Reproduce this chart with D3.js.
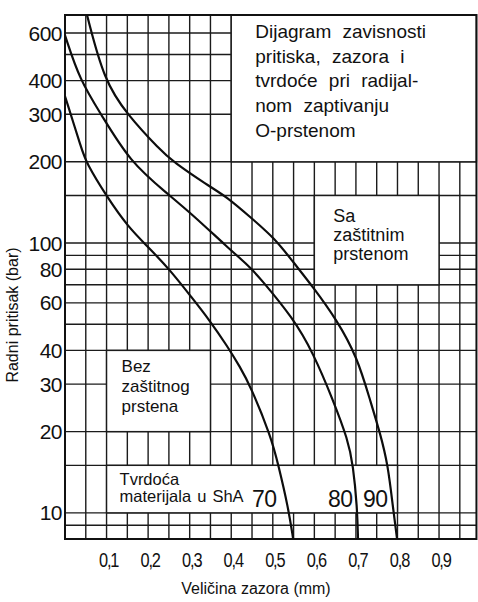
<!DOCTYPE html>
<html>
<head>
<meta charset="utf-8">
<script src="https://cdn.jsdelivr.net/npm/d3@7"></script>
<style>
  body { margin: 0; background: #fff; }
  svg { display: block; font-family: "Liberation Sans", Arial, sans-serif; }
</style>
</head>
<body>
<div id="chart"></div>
<script>
// 1: DATA
// gap (mm) / pressure (bar) pairs for each hardness curve
const hardness = ["70", "80", "90"];
const curve70 = [[0, 350], [0.041, 221], [0.05, 200], [0.101, 148], [0.152, 114.6], [0.2, 96.7],
    [0.253, 79.4], [0.306, 62.5], [0.344, 52.7], [0.392, 41.2], [0.421, 34.7], [0.445, 29.8],
    [0.496, 19.1], [0.513, 15.1], [0.537, 10.5], [0.549, 8]];
const curve80 = [[0, 589], [0.036, 400], [0.087, 300], [0.156, 200], [0.245, 153], [0.308, 127],
    [0.39, 96.7], [0.445, 81.5], [0.469, 74.2], [0.549, 52.7], [0.597, 39.2], [0.645, 26.2],
    [0.681, 18.6], [0.693, 15.1], [0.703, 10.5], [0.705, 8]];
const curve90 = [[0.053, 700], [0.094, 400], [0.149, 300], [0.229, 221], [0.26, 200], [0.342, 164],
    [0.39, 148], [0.445, 125], [0.505, 104], [0.549, 85], [0.597, 68.7], [0.654, 51.9],
    [0.703, 37.8], [0.734, 26.2], [0.758, 19.8], [0.777, 15.1], [0.789, 10.5], [0.799, 8]];
const curves = [curve70, curve80, curve90];

// ticks and grid
const xTicks = [0.1, 0.2, 0.3, 0.4, 0.5, 0.6, 0.7, 0.8, 0.9];
const xTickLabels = ["0,1", "0,2", "0,3", "0,4", "0,5", "0,6", "0,7", "0,8", "0,9"];
const yTicks = [10, 20, 30, 40, 60, 80, 100, 200, 300, 400, 600];
const xGrid = [0.05, 0.1, 0.15, 0.2, 0.25, 0.3, 0.35, 0.4, 0.45, 0.5, 0.55, 0.6, 0.65,
    0.7, 0.75, 0.8, 0.85, 0.9, 0.95];
const yGrid = [9, 10, 15, 20, 30, 40, 50, 60, 70, 80, 90, 100, 150, 200, 300, 400, 500, 600];

// texts
const titleLines = ["Dijagram zavisnosti", "pritiska, zazora i", "tvrdoće pri radijal-",
    "nom zaptivanju", "O-prstenom"];
const withRingLines = ["Sa", "zaštitnim", "prstenom"];
const noRingLines = ["Bez", "zaštitnog", "prstena"];
const hardnessLines = ["Tvrdoća", "materijala u ShA"];

// 2: SCALES
const W = 478, H = 602;
const xMax = 0.99;
const x = d3.scaleLinear().domain([0, 1]).range([65, 480.6]);
const y = d3.scaleLog().domain([8, 700]).range([539, 15]);
const pLeft = x(0), pRight = x(xMax), pTop = y(700), pBottom = y(8);

const svg = d3.select("#chart").append("svg")
    .attr("width", W)
    .attr("height", H);

// 3: GRID
const grid = svg.append("g")
    .attr("stroke", "#1b1b1b")
    .attr("stroke-width", 1.4);

grid.selectAll(".vx").data(xGrid).join("line")
    .attr("x1", d => x(d)).attr("x2", d => x(d))
    .attr("y1", pTop).attr("y2", pBottom);

grid.selectAll(".hy").data(yGrid).join("line")
    .attr("x1", pLeft).attr("x2", pRight)
    .attr("y1", d => y(d)).attr("y2", d => y(d));

// white boxes cut out of the grid, in data units [x0, x1, pLow, pHigh]
const boxes = [
    [0.4, xMax, 200, 700],
    [0.6, 0.9, 70, 150],
    [0.1, 0.35, 20, 40],
    [0.1, 0.8, 10, 15]
];
svg.append("g").selectAll("rect").data(boxes).join("rect")
    .attr("x", d => x(d[0]))
    .attr("y", d => y(d[3]))
    .attr("width", d => x(d[1]) - x(d[0]))
    .attr("height", d => y(d[2]) - y(d[3]))
    .attr("fill", "#fff")
    .attr("stroke", "#1b1b1b")
    .attr("stroke-width", 1.4);

// plot border
svg.append("rect")
    .attr("x", pLeft).attr("y", pTop)
    .attr("width", pRight - pLeft).attr("height", pBottom - pTop)
    .attr("fill", "none")
    .attr("stroke", "#111")
    .attr("stroke-width", 2);

// 4: CURVES
svg.append("clipPath").attr("id", "plotClip")
    .append("rect")
    .attr("x", pLeft).attr("y", pTop)
    .attr("width", pRight - pLeft).attr("height", pBottom - pTop);

const line = d3.line()
    .x(d => x(d[0]))
    .y(d => y(d[1]))
    .curve(d3.curveBasis);

svg.append("g").attr("clip-path", "url(#plotClip)")
    .selectAll("path").data(curves).join("path")
    .attr("fill", "none")
    .attr("stroke", "#0d0d0d")
    .attr("stroke-width", 2.2)
    .attr("d", line);

// 5: TICK LABELS
svg.append("g").selectAll("text").data(yTicks).join("text")
    .attr("x", pLeft - 3)
    .attr("y", d => y(d))
    .attr("dy", "0.36em")
    .attr("text-anchor", "end")
    .attr("font-size", 21)
    .attr("letter-spacing", -0.5)
    .attr("fill", "#111")
    .text(d => d);

// narrow decimal labels (squeezed horizontally like the original lettering)
svg.append("g").selectAll("text").data(xTicks).join("text")
    .attr("transform", d => `translate(${x(d) + 2},567) scale(0.78,1)`)
    .attr("text-anchor", "middle")
    .attr("font-size", 21)
    .attr("letter-spacing", -1.5)
    .attr("fill", "#111")
    .text((d, i) => xTickLabels[i]);

// axis titles
svg.append("text")
    .attr("x", 256)
    .attr("y", 594)
    .attr("text-anchor", "middle")
    .attr("font-size", 16)
    .attr("fill", "#111")
    .text("Veličina zazora (mm)");

svg.append("text")
    .attr("transform", "translate(18,315) rotate(-90)")
    .attr("text-anchor", "middle")
    .attr("font-size", 16)
    .attr("fill", "#111")
    .text("Radni pritisak (bar)");

// 6: BOX TEXTS
function block(lines, x0, y0, step, size, wordGap) {
    svg.append("g").selectAll("text").data(lines).join("text")
        .attr("x", x0)
        .attr("y", (d, i) => y0 + i * step)
        .attr("font-size", size)
        .attr("word-spacing", wordGap)
        .attr("fill", "#111")
        .text(d => d);
}
block(titleLines, x(0.4) + 24, 38, 24.7, 19, 6);
block(withRingLines, x(0.6) + 19, 222, 19, 18, 0);
block(noRingLines, x(0.1) + 15, 372, 20, 17, 0);
block(hardnessLines, x(0.1) + 13, 485, 17, 16.5, 1.5);

// hardness numbers at the foot of each curve
const hardnessX = [252, 328, 363];
svg.append("g").selectAll("text").data(hardness).join("text")
    .attr("x", (d, i) => hardnessX[i])
    .attr("y", 507)
    .attr("font-size", 23)
    .attr("letter-spacing", -0.5)
    .attr("fill", "#111")
    .text(d => d);
</script>
</body>
</html>
